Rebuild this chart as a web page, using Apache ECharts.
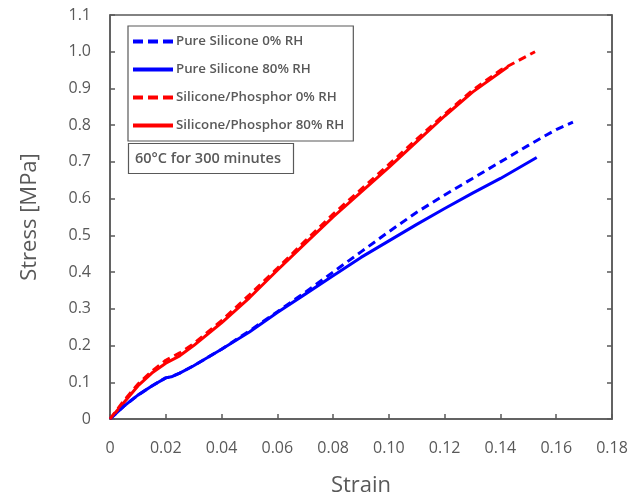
<!DOCTYPE html>
<html>
<head>
<meta charset="utf-8">
<script src="https://cdn.jsdelivr.net/npm/echarts@6/dist/echarts.min.js"></script>
<style>html,body{margin:0;padding:0;background:#fff}#c{width:644px;height:497px}</style>
</head>
<body>
<div id="c"></div>
<script>
var seriesNames = ['Pure Silicone 0% RH', 'Pure Silicone 80% RH', 'Silicone/Phosphor 0% RH', 'Silicone/Phosphor 80% RH'];
var pureSilicone0 = [[0,0],[0.005,0.035],[0.01,0.065],[0.015,0.09],[0.02,0.112],[0.022,0.115],[0.025,0.125],[0.03,0.145],[0.04,0.19],[0.05,0.24],[0.06,0.292],[0.07,0.345],[0.08,0.4],[0.09,0.455],[0.10,0.51],[0.11,0.563],[0.12,0.61],[0.13,0.655],[0.14,0.7],[0.15,0.745],[0.155,0.767],[0.16,0.788],[0.166,0.808]];
var pureSilicone80 = [[0,0],[0.005,0.035],[0.01,0.065],[0.015,0.09],[0.02,0.112],[0.022,0.115],[0.025,0.125],[0.03,0.145],[0.04,0.19],[0.05,0.237],[0.06,0.29],[0.07,0.34],[0.08,0.39],[0.09,0.44],[0.10,0.485],[0.11,0.53],[0.12,0.573],[0.13,0.615],[0.14,0.655],[0.153,0.712]];
var phosphor0 = [[0,0],[0.005,0.05],[0.01,0.095],[0.015,0.13],[0.02,0.16],[0.025,0.18],[0.03,0.205],[0.04,0.268],[0.05,0.338],[0.06,0.41],[0.07,0.485],[0.08,0.558],[0.09,0.625],[0.10,0.693],[0.11,0.762],[0.12,0.83],[0.13,0.895],[0.14,0.95],[0.145,0.97],[0.1524,1.0]];
var phosphor80 = [[0,0],[0.005,0.045],[0.01,0.09],[0.015,0.125],[0.02,0.152],[0.025,0.172],[0.03,0.2],[0.04,0.262],[0.05,0.33],[0.06,0.405],[0.07,0.478],[0.08,0.55],[0.09,0.618],[0.10,0.685],[0.11,0.755],[0.12,0.825],[0.13,0.89],[0.1427,0.959]];
var annotation = '60°C for 300 minutes';
var xTitle = 'Strain';
var yTitle = 'Stress [MPa]';

var gray = '#595959';
var font = '"Open Sans", "Liberation Sans", sans-serif';
var dashIcon = 'path://M0,0h10v4h-10z M15,0h10v4h-10z M30,0h10v4h-10z';
var solidIcon = 'path://M0,0h40v4h-40z';
function mk(name, data, color, dashed) {
  return {
    name: name, type: 'line', data: data, showSymbol: false, symbol: 'none', smooth: false,
    lineStyle: { color: color, width: 3, type: dashed ? [8, 5] : 'solid' },
    itemStyle: { color: color },
    z: dashed ? 3 : 2
  };
}
var chart = echarts.init(document.getElementById('c'));
chart.setOption({
  animation: false,
  backgroundColor: '#fff',
  grid: { left: 110, top: 15, width: 502, height: 404, containLabel: false, outerBoundsMode: 'none',
    show: true, borderColor: gray, borderWidth: 1.5, backgroundColor: 'transparent' },
  title: {
    text: annotation, left: 128, top: 143,
    borderColor: gray, borderWidth: 1.2, padding: [8, 13, 8, 7],
    textStyle: { fontFamily: font, fontSize: 14.5, fontWeight: 600, color: gray }
  },
  legend: {
    orient: 'vertical', left: 128, top: 26,
    data: [
      { name: seriesNames[0], icon: dashIcon },
      { name: seriesNames[1], icon: solidIcon },
      { name: seriesNames[2], icon: dashIcon },
      { name: seriesNames[3], icon: solidIcon }
    ],
    itemWidth: 42, itemHeight: 4, itemGap: 11,
    borderColor: gray, borderWidth: 1.2, padding: [7, 9, 7, 5],
    textStyle: { fontFamily: font, fontSize: 13.3, fontWeight: 600, color: gray, lineHeight: 17, padding: [0, 0, 0, -3] }
  },
  xAxis: {
    type: 'value', min: 0, max: 0.18, interval: 0.02,
    name: xTitle, nameLocation: 'middle', nameGap: 56,
    nameTextStyle: { fontFamily: font, fontSize: 22, color: gray },
    axisLine: { lineStyle: { color: gray, width: 1.5 } },
    axisTick: { inside: true, length: 5, lineStyle: { color: gray, width: 1.5 } },
    splitLine: { show: false },
    axisLabel: { margin: 21, fontFamily: font, fontSize: 16, color: gray,
      formatter: function (v) { return v === 0 ? '0' : v.toFixed(2); } }
  },
  yAxis: [{
    type: 'value', min: 0, max: 1.1, interval: 0.1,
    name: yTitle, nameLocation: 'middle', nameGap: 69, nameRotate: 90,
    nameTextStyle: { fontFamily: font, fontSize: 22, color: gray },
    axisLine: { lineStyle: { color: gray, width: 1.5 } },
    axisTick: { inside: true, length: 5, lineStyle: { color: gray, width: 1.5 } },
    splitLine: { show: false },
    axisLabel: { margin: 19, fontFamily: font, fontSize: 16, color: gray,
      formatter: function (v) { return v === 0 ? '0' : v.toFixed(1); } }
  }, {
    type: 'value', min: 0, max: 1.1, interval: 0.1, position: 'right',
    axisLine: { show: true, lineStyle: { color: gray, width: 1.5 } },
    axisTick: { inside: true, length: 5, lineStyle: { color: gray, width: 1.5 } },
    axisLabel: { show: false }, splitLine: { show: false }
  }],
  series: [
    mk(seriesNames[0], pureSilicone0, '#0000ff', true),
    mk(seriesNames[1], pureSilicone80, '#0000ff', false),
    mk(seriesNames[2], phosphor0, '#ff0000', true),
    mk(seriesNames[3], phosphor80, '#ff0000', false)
  ]
});
</script>
</body>
</html>
